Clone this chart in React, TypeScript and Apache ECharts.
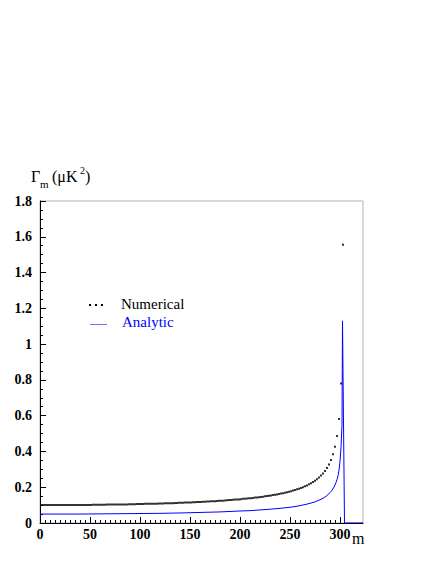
import React, { useEffect, useRef } from 'react';
import * as echarts from 'echarts';

// Numerical points: m (odd values) and Gamma_m in muK^2
const numericalM = [
  1, 3, 5, 7, 9, 11, 13, 15, 17, 19,
  21, 23, 25, 27, 29, 31, 33, 35, 37, 39,
  41, 43, 45, 47, 49, 51, 53, 55, 57, 59,
  61, 63, 65, 67, 69, 71, 73, 75, 77, 79,
  81, 83, 85, 87, 89, 91, 93, 95, 97, 99,
  101, 103, 105, 107, 109, 111, 113, 115, 117, 119,
  121, 123, 125, 127, 129, 131, 133, 135, 137, 139,
  141, 143, 145, 147, 149, 151, 153, 155, 157, 159,
  161, 163, 165, 167, 169, 171, 173, 175, 177, 179,
  181, 183, 185, 187, 189, 191, 193, 195, 197, 199,
  201, 203, 205, 207, 209, 211, 213, 215, 217, 219,
  221, 223, 225, 227, 229, 231, 233, 235, 237, 239,
  241, 243, 245, 247, 249, 251, 253, 255, 257, 259,
  261, 263, 265, 267, 269, 271, 273, 275, 277, 279,
  281, 283, 285, 287, 289, 291, 293, 295, 297, 299,
  301, 303,
];
const numericalValues = [
  0.100, 0.100, 0.100, 0.100, 0.100, 0.100, 0.100, 0.100, 0.100, 0.100,
  0.100, 0.100, 0.100, 0.100, 0.100, 0.101, 0.101, 0.101, 0.101, 0.101,
  0.101, 0.101, 0.101, 0.101, 0.101, 0.101, 0.102, 0.102, 0.102, 0.102,
  0.102, 0.102, 0.102, 0.103, 0.103, 0.103, 0.103, 0.103, 0.103, 0.104,
  0.104, 0.104, 0.104, 0.104, 0.105, 0.105, 0.105, 0.105, 0.106, 0.106,
  0.106, 0.106, 0.107, 0.107, 0.107, 0.107, 0.108, 0.108, 0.108, 0.109,
  0.109, 0.109, 0.110, 0.110, 0.110, 0.111, 0.111, 0.112, 0.112, 0.113,
  0.113, 0.113, 0.114, 0.114, 0.115, 0.115, 0.116, 0.116, 0.117, 0.117,
  0.118, 0.119, 0.119, 0.120, 0.120, 0.121, 0.122, 0.122, 0.123, 0.124,
  0.125, 0.125, 0.126, 0.127, 0.128, 0.129, 0.130, 0.131, 0.131, 0.132,
  0.133, 0.135, 0.136, 0.137, 0.138, 0.139, 0.140, 0.142, 0.143, 0.144,
  0.146, 0.147, 0.149, 0.151, 0.152, 0.154, 0.156, 0.158, 0.160, 0.162,
  0.165, 0.167, 0.169, 0.172, 0.175, 0.178, 0.181, 0.184, 0.188, 0.192,
  0.196, 0.200, 0.205, 0.210, 0.216, 0.222, 0.229, 0.236, 0.245, 0.254,
  0.265, 0.277, 0.291, 0.308, 0.327, 0.352, 0.384, 0.426, 0.486, 0.582,
  0.780, 1.555,
];

// Analytic curve samples
const analyticM = [
  0, 20, 40, 60, 80, 100, 120, 140, 160, 180,
  200, 210, 220, 230, 240, 250, 255, 260, 265, 270,
  275, 280, 283, 286, 288, 290, 292, 294, 296, 297,
  298, 299, 300, 301, 302, 302.5, 304.5, 323,
];
const analyticValues = [
  0.050, 0.050, 0.050, 0.051, 0.052, 0.053, 0.054, 0.056, 0.059, 0.062,
  0.067, 0.069, 0.073, 0.077, 0.082, 0.088, 0.092, 0.097, 0.103, 0.110,
  0.118, 0.130, 0.138, 0.149, 0.159, 0.170, 0.183, 0.201, 0.226, 0.243,
  0.264, 0.295, 0.345, 0.42, 0.55, 1.13, 0, 0,
];

// Axis ranges and tick labels
const xTickLabels = [0, 50, 100, 150, 200, 250, 300];
const X_MIN = 0;
const X_MAX = 323;
const X_MINOR_STEP = 5;
const Y_MIN = 0;
const Y_MAX = 1.8;
const Y_INTERVAL = 0.2;

const SERIF = 'Liberation Serif';

export default function App() {
  const ref = useRef<HTMLDivElement>(null);

  useEffect(() => {
    if (!ref.current) return;
    const chart = echarts.init(ref.current, undefined, { renderer: 'svg' });

    const numData = numericalM.map((m, i) => [m, numericalValues[i]]);
    const anaData = analyticM.map((m, i) => [m, analyticValues[i]]);

    const lastMajor = xTickLabels[xTickLabels.length - 1];
    const xMinorTicks: number[] = [];
    for (let v = X_MINOR_STEP; v < lastMajor; v += X_MINOR_STEP) {
      if (v % 50 !== 0) xMinorTicks.push(v);
    }

    const labelStyle = {
      fontFamily: SERIF,
      fontWeight: 'bold' as const,
      fontSize: 14,
      color: '#000',
    };
    const txt = (text: string, left: number, top: number, size: number, fill = '#000') => ({
      type: 'text',
      left,
      top,
      style: { text, fontFamily: SERIF, fontSize: size, fill },
    });
    const gridBox = { left: 40, top: 201, right: 73, bottom: 41 };

    chart.setOption({
      animation: false,
      backgroundColor: '#fff',
      grid: [
        {
          ...gridBox,
          show: true,
          borderColor: '#b4b4b4',
          borderWidth: 1,
          backgroundColor: 'transparent',
        },
        { ...gridBox, show: false },
      ],
      xAxis: [
        {
          type: 'value',
          gridIndex: 0,
          min: X_MIN,
          max: X_MAX,
          axisLine: { show: true, onZero: false, lineStyle: { color: '#000', width: 1 } },
          axisTick: {
            show: true,
            inside: true,
            length: 6,
            customValues: xTickLabels,
            lineStyle: { color: '#000' },
          },
          minorTick: { show: false },
          splitLine: { show: false },
          axisLabel: { ...labelStyle, margin: 4, customValues: xTickLabels },
        },
        {
          type: 'value',
          gridIndex: 1,
          min: X_MIN,
          max: X_MAX,
          position: 'bottom',
          axisLine: { show: false },
          axisTick: {
            show: true,
            inside: true,
            length: 3,
            customValues: xMinorTicks,
            lineStyle: { color: '#000' },
          },
          axisLabel: { show: false },
          splitLine: { show: false },
        },
      ],
      yAxis: [
        {
          type: 'value',
          gridIndex: 0,
          min: Y_MIN,
          max: Y_MAX,
          interval: Y_INTERVAL,
          axisLine: { show: true, onZero: false, lineStyle: { color: '#000', width: 1 } },
          axisTick: { show: true, inside: true, length: 6, lineStyle: { color: '#000' } },
          minorTick: { show: true, splitNumber: 4, length: 3, lineStyle: { color: '#000' } },
          splitLine: { show: false },
          axisLabel: { ...labelStyle, margin: 8 },
        },
        {
          type: 'value',
          gridIndex: 1,
          min: Y_MIN,
          max: Y_MAX,
          interval: Y_INTERVAL,
          show: false,
        },
      ],
      series: [
        {
          name: 'Numerical',
          type: 'scatter',
          xAxisIndex: 0,
          yAxisIndex: 0,
          data: numData,
          symbol: 'rect',
          symbolSize: 2,
          itemStyle: { color: '#000' },
        },
        {
          name: 'Analytic',
          type: 'line',
          xAxisIndex: 0,
          yAxisIndex: 0,
          data: anaData,
          showSymbol: false,
          symbol: 'none',
          lineStyle: { color: '#0000ff', width: 1 },
        },
      ],
      graphic: [
        // y-axis title: Γm (μK²)
        txt('Γ', 31, 168, 16),
        txt('m', 40, 178, 11),
        txt('(μK', 52, 168, 16),
        txt('2', 80, 165, 10),
        txt(')', 85, 168, 16),
        // x-axis title
        txt('m', 352, 530, 16),
        // legend
        { type: 'rect', shape: { x: 89, y: 304, width: 2, height: 2 }, style: { fill: '#000' } },
        { type: 'rect', shape: { x: 95, y: 304, width: 2, height: 2 }, style: { fill: '#000' } },
        { type: 'rect', shape: { x: 101, y: 304, width: 2, height: 2 }, style: { fill: '#000' } },
        txt('Numerical', 121, 296, 15),
        { type: 'line', shape: { x1: 90, y1: 324.5, x2: 107, y2: 324.5 }, style: { stroke: '#7070ff', lineWidth: 1 } },
        txt('Analytic', 122, 314, 15, '#0000ff'),
      ],
    });

    return () => {
      chart.dispose();
    };
  }, []);

  return (
    <div
      ref={ref}
      style={{ position: 'fixed', left: 0, top: 0, width: 436, height: 564, background: '#fff' }}
    />
  );
}
